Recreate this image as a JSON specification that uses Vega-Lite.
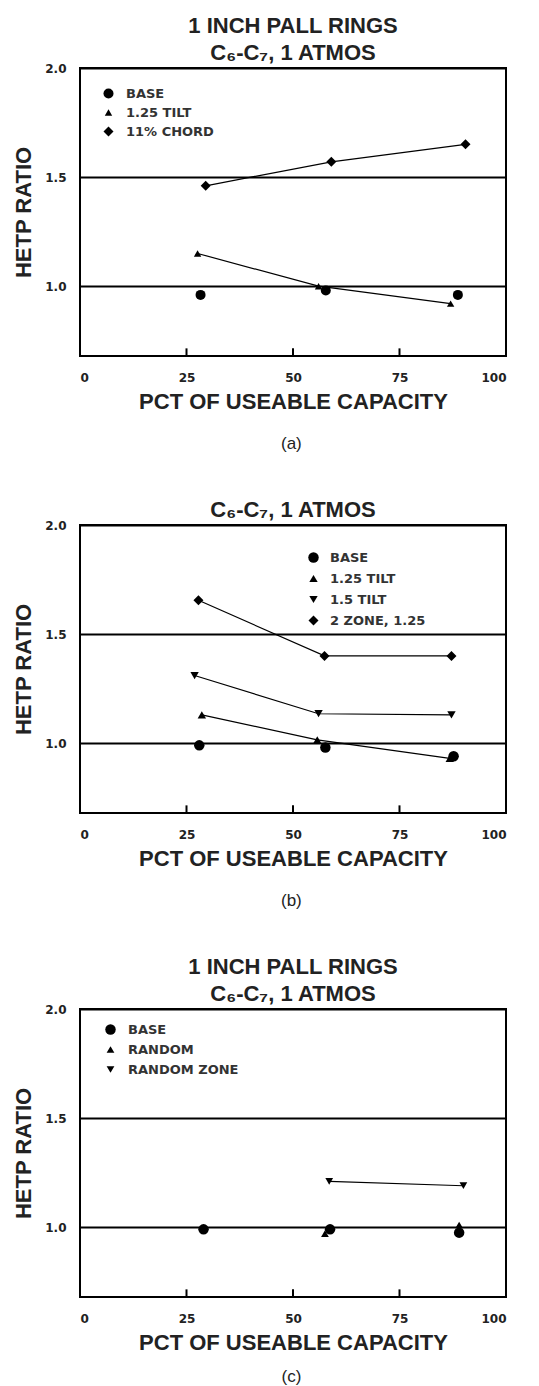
{
  "$schema": "https://vega.github.io/schema/vega-lite/v6.json",
  "background": "white",
  "padding": {"left": 11, "top": 14, "right": 20, "bottom": 0},
  "spacing": 46,
  "resolve": {"scale": {"shape": "independent", "size": "independent"}, "legend": {"shape": "independent", "size": "independent"}},
  "config": {
    "view": {"stroke": "black", "strokeWidth": 2},
    "axis": {
      "domain": false,
      "labelFont": "DejaVu Sans",
      "labelFontWeight": "bold",
      "labelFontSize": 12,
      "labelColor": "#222",
      "titleFont": "Liberation Sans",
      "titleFontWeight": "bold",
      "titleFontSize": 22,
      "titleColor": "#222"
    },
    "title": {
      "font": "Liberation Sans",
      "fontWeight": "bold",
      "fontSize": 22,
      "color": "#222",
      "lineHeight": 27,
      "anchor": "middle",
      "offset": -3
    },
    "legend": {
      "labelFont": "DejaVu Sans",
      "labelFontWeight": "bold",
      "labelFontSize": 13,
      "labelColor": "#333",
      "symbolFillColor": "black",
      "symbolStrokeColor": "black",
      "symbolStrokeWidth": 0,
      "title": null
    },
    "point": {"filled": true, "color": "black", "opacity": 1}
  },
  "datasets": {
    "xticks": [{"pct": 25}, {"pct": 50}, {"pct": 75}],
    "a": [
      {"series": "BASE", "pct": 28.3, "hetp": 0.96},
      {"series": "BASE", "pct": 57.7, "hetp": 0.98},
      {"series": "BASE", "pct": 88.7, "hetp": 0.96},
      {"series": "1.25 TILT", "pct": 27.6, "hetp": 1.15},
      {"series": "1.25 TILT", "pct": 56.0, "hetp": 1.0},
      {"series": "1.25 TILT", "pct": 87.0, "hetp": 0.92},
      {"series": "11% CHORD", "pct": 29.5, "hetp": 1.46},
      {"series": "11% CHORD", "pct": 59.0, "hetp": 1.57},
      {"series": "11% CHORD", "pct": 90.5, "hetp": 1.65}
    ],
    "b": [
      {"series": "BASE", "pct": 28.0, "hetp": 0.99},
      {"series": "BASE", "pct": 57.6, "hetp": 0.98},
      {"series": "BASE", "pct": 87.7, "hetp": 0.94},
      {"series": "1.25 TILT", "pct": 28.6, "hetp": 1.13},
      {"series": "1.25 TILT", "pct": 55.7, "hetp": 1.015},
      {"series": "1.25 TILT", "pct": 86.8, "hetp": 0.93},
      {"series": "1.5 TILT", "pct": 26.9, "hetp": 1.31},
      {"series": "1.5 TILT", "pct": 56.0, "hetp": 1.135},
      {"series": "1.5 TILT", "pct": 87.2, "hetp": 1.13},
      {"series": "2 ZONE, 1.25", "pct": 27.8, "hetp": 1.655},
      {"series": "2 ZONE, 1.25", "pct": 57.4, "hetp": 1.4},
      {"series": "2 ZONE, 1.25", "pct": 87.2, "hetp": 1.4}
    ],
    "c": [
      {"series": "BASE", "pct": 29.0, "hetp": 0.99},
      {"series": "BASE", "pct": 58.7, "hetp": 0.99},
      {"series": "BASE", "pct": 89.0, "hetp": 0.975},
      {"series": "RANDOM", "pct": 57.5, "hetp": 0.97},
      {"series": "RANDOM", "pct": 89.0, "hetp": 1.01},
      {"series": "RANDOM ZONE", "pct": 58.5, "hetp": 1.21},
      {"series": "RANDOM ZONE", "pct": 90.0, "hetp": 1.19}
    ]
  },
  "vconcat": [
    {
      "title": {"text": "(a)", "orient": "bottom", "font": "Liberation Sans", "fontWeight": "normal", "fontSize": 17, "offset": 23, "dx": 32},
      "resolve": {"scale": {"shape": "independent", "size": "independent"}, "legend": {"shape": "independent", "size": "independent"}},
      "vconcat": [
        {
          "width": 426,
          "height": 288,
          "title": {"text": ["1 INCH PALL RINGS", "C₆-C₇, 1 ATMOS"]},
          "layer": [
            {
              "data": {"name": "xticks"},
              "mark": {"type": "rule", "color": "black", "strokeWidth": 2},
              "encoding": {
                "x": {"field": "pct", "type": "quantitative", "scale": {"domain": [0, 100], "nice": false},
                  "axis": {"values": [0, 25, 50, 75, 100], "title": "PCT OF USEABLE CAPACITY", "grid": false, "ticks": false, "labelPadding": 16, "titlePadding": 8}},
                "y": {"datum": 0.68, "type": "quantitative", "scale": {"domain": [0.68, 2.0], "nice": false, "zero": false},
                  "axis": {"values": [1.0, 1.5, 2.0], "format": ".1f", "title": "HETP RATIO", "grid": true, "gridColor": "black", "gridWidth": 2, "gridOpacity": 1, "ticks": false, "labelPadding": 14, "titlePadding": 9}},
                "y2": {"datum": 0.715}
              }
            },
            {
              "data": {"name": "a"},
              "transform": [{"filter": {"field": "series", "oneOf": ["1.25 TILT", "11% CHORD"]}}],
              "mark": {"type": "line", "color": "black", "strokeWidth": 1.2},
              "encoding": {
                "x": {"field": "pct", "type": "quantitative"},
                "y": {"field": "hetp", "type": "quantitative"},
                "detail": {"field": "series"}
              }
            },
            {
              "data": {"name": "a"},
              "mark": {"type": "point"},
              "encoding": {
                "x": {"field": "pct", "type": "quantitative"},
                "y": {"field": "hetp", "type": "quantitative"},
                "shape": {"field": "series", "type": "nominal",
                  "scale": {"domain": ["BASE", "1.25 TILT", "11% CHORD"], "range": ["circle", "triangle-up", "diamond"]},
                  "legend": {"orient": "none", "legendX": 22, "legendY": 19, "rowPadding": 5, "labelOffset": 11}},
                "size": {"field": "series", "type": "nominal",
                  "scale": {"type": "ordinal", "domain": ["BASE", "1.25 TILT", "11% CHORD"], "range": [100, 55, 100]},
                  "legend": {"orient": "none", "legendX": 22, "legendY": 19, "rowPadding": 5, "labelOffset": 11}}
              }
            }
          ]
        }
      ]
    },
    {
      "title": {"text": "(b)", "orient": "bottom", "font": "Liberation Sans", "fontWeight": "normal", "fontSize": 17, "offset": 23, "dx": 32},
      "resolve": {"scale": {"shape": "independent", "size": "independent"}, "legend": {"shape": "independent", "size": "independent"}},
      "vconcat": [
        {
          "width": 426,
          "height": 288,
          "title": {"text": "C₆-C₇, 1 ATMOS"},
          "layer": [
            {
              "data": {"name": "xticks"},
              "mark": {"type": "rule", "color": "black", "strokeWidth": 2},
              "encoding": {
                "x": {"field": "pct", "type": "quantitative", "scale": {"domain": [0, 100], "nice": false},
                  "axis": {"values": [0, 25, 50, 75, 100], "title": "PCT OF USEABLE CAPACITY", "grid": false, "ticks": false, "labelPadding": 16, "titlePadding": 8}},
                "y": {"datum": 0.68, "type": "quantitative", "scale": {"domain": [0.68, 2.0], "nice": false, "zero": false},
                  "axis": {"values": [1.0, 1.5, 2.0], "format": ".1f", "title": "HETP RATIO", "grid": true, "gridColor": "black", "gridWidth": 2, "gridOpacity": 1, "ticks": false, "labelPadding": 14, "titlePadding": 9}},
                "y2": {"datum": 0.715}
              }
            },
            {
              "data": {"name": "b"},
              "transform": [{"filter": {"field": "series", "oneOf": ["1.25 TILT", "1.5 TILT", "2 ZONE, 1.25"]}}],
              "mark": {"type": "line", "color": "black", "strokeWidth": 1.2},
              "encoding": {
                "x": {"field": "pct", "type": "quantitative"},
                "y": {"field": "hetp", "type": "quantitative"},
                "detail": {"field": "series"}
              }
            },
            {
              "data": {"name": "b"},
              "mark": {"type": "point"},
              "encoding": {
                "x": {"field": "pct", "type": "quantitative"},
                "y": {"field": "hetp", "type": "quantitative"},
                "shape": {"field": "series", "type": "nominal",
                  "scale": {"domain": ["BASE", "1.25 TILT", "1.5 TILT", "2 ZONE, 1.25"], "range": ["circle", "triangle-up", "triangle-down", "diamond"]},
                  "legend": {"orient": "none", "legendX": 227, "legendY": 26, "rowPadding": 7, "labelOffset": 10}},
                "size": {"field": "series", "type": "nominal",
                  "scale": {"type": "ordinal", "domain": ["BASE", "1.25 TILT", "1.5 TILT", "2 ZONE, 1.25"], "range": [110, 70, 70, 100]},
                  "legend": {"orient": "none", "legendX": 227, "legendY": 26, "rowPadding": 7, "labelOffset": 10}}
              }
            }
          ]
        }
      ]
    },
    {
      "title": {"text": "(c)", "orient": "bottom", "font": "Liberation Sans", "fontWeight": "normal", "fontSize": 17, "offset": 15, "dx": 32},
      "resolve": {"scale": {"shape": "independent", "size": "independent"}, "legend": {"shape": "independent", "size": "independent"}},
      "vconcat": [
        {
          "width": 426,
          "height": 288,
          "title": {"text": ["1 INCH PALL RINGS", "C₆-C₇, 1 ATMOS"]},
          "layer": [
            {
              "data": {"name": "xticks"},
              "mark": {"type": "rule", "color": "black", "strokeWidth": 2},
              "encoding": {
                "x": {"field": "pct", "type": "quantitative", "scale": {"domain": [0, 100], "nice": false},
                  "axis": {"values": [0, 25, 50, 75, 100], "title": "PCT OF USEABLE CAPACITY", "grid": false, "ticks": false, "labelPadding": 16, "titlePadding": 8}},
                "y": {"datum": 0.68, "type": "quantitative", "scale": {"domain": [0.68, 2.0], "nice": false, "zero": false},
                  "axis": {"values": [1.0, 1.5, 2.0], "format": ".1f", "title": "HETP RATIO", "grid": true, "gridColor": "black", "gridWidth": 2, "gridOpacity": 1, "ticks": false, "labelPadding": 14, "titlePadding": 9}},
                "y2": {"datum": 0.715}
              }
            },
            {
              "data": {"name": "c"},
              "transform": [{"filter": {"field": "series", "oneOf": ["RANDOM ZONE"]}}],
              "mark": {"type": "line", "color": "black", "strokeWidth": 1.2},
              "encoding": {
                "x": {"field": "pct", "type": "quantitative"},
                "y": {"field": "hetp", "type": "quantitative"},
                "detail": {"field": "series"}
              }
            },
            {
              "data": {"name": "c"},
              "mark": {"type": "point"},
              "encoding": {
                "x": {"field": "pct", "type": "quantitative"},
                "y": {"field": "hetp", "type": "quantitative"},
                "shape": {"field": "series", "type": "nominal",
                  "scale": {"domain": ["BASE", "RANDOM", "RANDOM ZONE"], "range": ["circle", "triangle-up", "triangle-down"]},
                  "legend": {"orient": "none", "legendX": 24, "legendY": 14, "rowPadding": 6, "labelOffset": 11}},
                "size": {"field": "series", "type": "nominal",
                  "scale": {"type": "ordinal", "domain": ["BASE", "RANDOM", "RANDOM ZONE"], "range": [110, 60, 60]},
                  "legend": {"orient": "none", "legendX": 24, "legendY": 14, "rowPadding": 6, "labelOffset": 11}}
              }
            }
          ]
        }
      ]
    }
  ]
}
